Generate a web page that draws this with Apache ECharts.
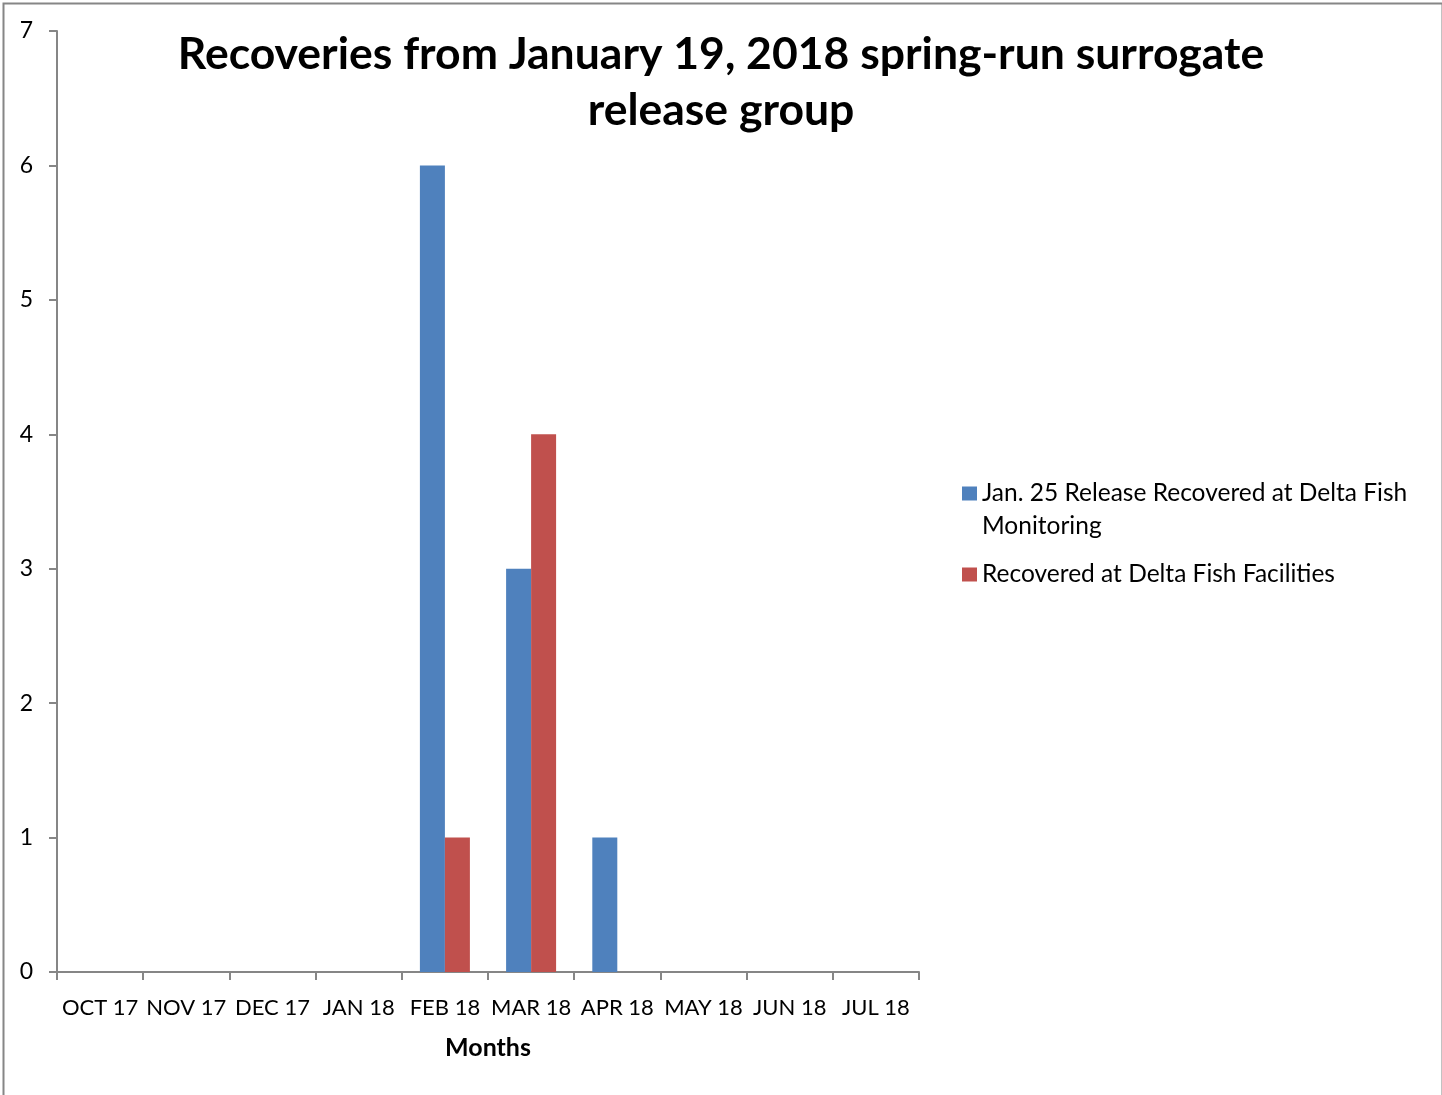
<!DOCTYPE html>
<html>
<head>
<meta charset="utf-8">
<script src="https://cdn.jsdelivr.net/npm/echarts@6/dist/echarts.min.js"></script>
<style>
  html, body { margin: 0; padding: 0; background: #fff; }
  #chart { width: 1442px; height: 1095px; }
</style>
</head>
<body>
<div id="chart"></div>
<script>
// Monthly recoveries of the January 19, 2018 spring-run surrogate release group
const months = ['OCT 17', 'NOV 17', 'DEC 17', 'JAN 18', 'FEB 18', 'MAR 18', 'APR 18', 'MAY 18', 'JUN 18', 'JUL 18'];
const monitoringName = 'Jan. 25 Release Recovered at Delta Fish Monitoring';
const facilitiesName = 'Recovered at Delta Fish Facilities';
const monitoringCounts = [0, 0, 0, 0, 6, 3, 1, 0, 0, 0];
const facilitiesCounts = [0, 0, 0, 0, 1, 4, 0, 0, 0, 0];
const yTicks = { min: 0, max: 7, interval: 1 };

const FONT = 'Lato, "Open Sans", sans-serif';
const AXIS_GRAY = '#868686';

const chart = echarts.init(document.getElementById('chart'), null, { renderer: 'canvas' });

chart.setOption({
  backgroundColor: '#ffffff',
  animation: false,
  title: {
    text: 'Recoveries from January 19, 2018 spring-run surrogate\nrelease group',
    left: 'center',
    top: 22,
    textStyle: {
      fontFamily: FONT,
      fontWeight: 'bold',
      fontSize: 44.5,
      lineHeight: 56,
      color: '#000'
    }
  },
  legend: [
    {
      // the leading blank line keeps the swatch level with the first text line
      data: [monitoringName],
      orient: 'vertical',
      left: 962,
      top: 444,
      padding: 0,
      itemWidth: 15,
      itemHeight: 14,
      icon: 'rect',
      formatter: () => ' \nJan. 25 Release Recovered at Delta Fish\nMonitoring',
      textStyle: { fontFamily: FONT, fontSize: 24.5, lineHeight: 33, color: '#000' }
    },
    {
      data: [facilitiesName],
      orient: 'vertical',
      left: 962,
      top: 558,
      padding: 0,
      itemWidth: 15,
      itemHeight: 14,
      icon: 'rect',
      textStyle: { fontFamily: FONT, fontSize: 24.5, lineHeight: 33, color: '#000' }
    }
  ],
  grid: { left: 57, right: 523, top: 31, bottom: 123, containLabel: false },
  xAxis: {
    type: 'category',
    data: months,
    name: 'Months',
    nameLocation: 'middle',
    nameGap: 63,
    nameTextStyle: { fontFamily: FONT, fontWeight: 'bold', fontSize: 25, color: '#000' },
    axisLine: { lineStyle: { color: AXIS_GRAY, width: 2 } },
    axisTick: { show: true, length: 8, alignWithLabel: false, lineStyle: { color: AXIS_GRAY, width: 2 } },
    axisLabel: { interval: 0, margin: 25, fontFamily: FONT, fontSize: 22, color: '#000' },
    splitLine: { show: false }
  },
  yAxis: {
    type: 'value',
    min: yTicks.min,
    max: yTicks.max,
    interval: yTicks.interval,
    axisLine: { show: true, lineStyle: { color: AXIS_GRAY, width: 2 } },
    axisTick: { show: true, length: 8, lineStyle: { color: AXIS_GRAY, width: 2 } },
    axisLabel: { margin: 24, fontFamily: FONT, fontSize: 23, color: '#000' },
    splitLine: { show: false }
  },
  series: [
    {
      name: monitoringName,
      type: 'bar',
      data: monitoringCounts,
      barGap: '0%',
      barCategoryGap: '42%',
      itemStyle: { color: '#4F81BD' }
    },
    {
      name: facilitiesName,
      type: 'bar',
      data: facilitiesCounts,
      barGap: '0%',
      barCategoryGap: '42%',
      itemStyle: { color: '#C0504D' }
    }
  ],
  graphic: [
    {
      type: 'rect',
      left: 1,
      top: 1,
      shape: { width: 1439, height: 1110 },
      style: { fill: 'none', stroke: AXIS_GRAY, lineWidth: 2 },
      silent: true
    }
  ]
});
</script>
</body>
</html>
